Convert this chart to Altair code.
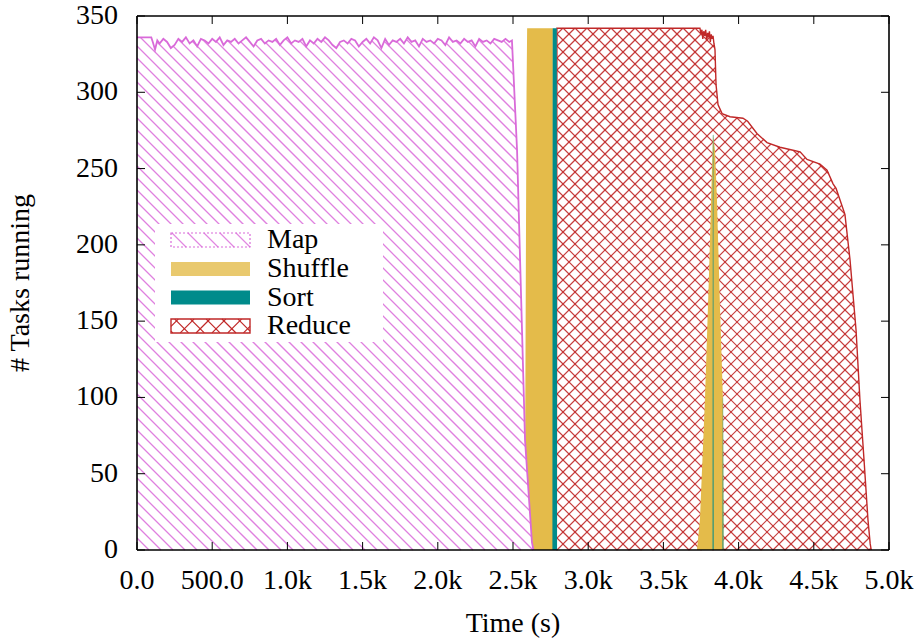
import numpy as np
import pandas as pd
import altair as alt

# ---------------- data ----------------
map_t = [0, 95, 105, 120, 135] + list(range(150, 2475, 25)) + [2475, 2493, 2527, 2580, 2626, 2636]
map_v = [336, 336, 333, 328, 334,
         332, 335, 333, 329, 331, 335, 333, 336, 332, 334,
         330, 335, 334, 332, 335, 333, 336, 331, 334, 333,
         335, 332, 334, 336, 333, 330, 334, 335, 332, 334,
         333, 335, 331, 334, 336, 332, 334, 333, 335, 330,
         334, 332, 335, 333, 336, 334, 331, 329, 333, 334,
         332, 335, 334, 330, 333, 335, 332, 336, 334, 329,
         335, 331, 334, 333, 335, 332, 336, 333, 334, 330,
         335, 333, 334, 332, 335, 334, 331, 336, 333, 334,
         332, 335, 333, 334, 330, 335, 333, 334, 332, 335,
         334, 333, 335,
         333, 334, 262, 72, 5, 0]

shuffle_t = [2578, 2590, 2594, 2765, 2768, 3723, 3743, 3776, 3803, 3823, 3830, 3843, 3856, 3876, 3896, 3900]
shuffle_v = [0, 300, 342, 342, 0, 0, 20, 98, 180, 250, 273, 262, 230, 160, 98, 0]

sort_t = [2762, 2764, 2791, 2793, 3827, 3829, 3832, 3834, 3893, 3895, 3897, 3899]
sort_v = [0, 342, 342, 0, 0, 272, 272, 0, 0, 100, 100, 0]

reduce_t = [2788, 2792, 3700, 3743, 3750, 3756, 3762, 3768, 3775, 3781, 3788, 3794, 3800, 3806,
            3812, 3818, 3824, 3830, 3836, 3843, 3850, 3863, 3890, 3943, 4029, 4060, 4122, 4189,
            4275, 4362, 4409, 4455, 4541, 4588, 4628, 4648, 4707, 4741, 4761, 4781, 4807, 4834,
            4860, 4875, 4882]
reduce_v = [0, 342, 342, 342, 338, 341, 335, 340, 337, 341, 334, 339, 336, 340,
            333, 338, 335, 337, 332, 328, 305, 292, 286, 284, 283, 281, 273, 267,
            264, 262, 261, 256, 253, 249, 240, 237, 220, 190, 167, 144, 98, 59,
            20, 4, 0]

series_names = ["Map", "Shuffle", "Sort", "Reduce"]
xticks = [0, 500, 1000, 1500, 2000, 2500, 3000, 3500, 4000, 4500, 5000]
xtick_labels = ["0.0", "500.0", "1.0k", "1.5k", "2.0k", "2.5k", "3.0k", "3.5k", "4.0k", "4.5k", "5.0k"]
yticks = [0, 50, 100, 150, 200, 250, 300, 350]
ytick_labels = ["0", "50", "100", "150", "200", "250", "300", "350"]
x_title = "Time (s)"
y_title = "# Tasks running"

# ---------------- style ----------------
W, H = 752, 534
XMAX, YMAX = 5000, 350
FONT = "Liberation Serif"
FS = 28
C_MAP = "#d96ad9"
C_SHUF = "#e4bb4a"
C_SORT = "#008b8b"
C_RED = "#c02828"

xscale = alt.Scale(domain=[0, XMAX], nice=False, zero=False)
yscale = alt.Scale(domain=[0, YMAX], nice=False)


def px2t(x):
    return x / W * XMAX


def py2v(y):
    return (H - y) / H * YMAX


def clip_hatch(gx, lo, hi, spacing, sgn, phase=0.0):
    segs = []
    x0, x1 = gx[0], gx[-1]
    umax, umin = hi.max(), lo.min()
    if sgn < 0:
        cmin, cmax = x0 + umin, x1 + umax
    else:
        cmin, cmax = umin - x1, umax - x0
    for k in range(int(np.floor(cmin / spacing)) - 1, int(np.ceil(cmax / spacing)) + 2):
        c = k * spacing + phase
        u = c + sgn * gx
        inside = (u >= lo) & (u <= hi) & (hi > lo)
        if not inside.any():
            continue
        d = np.diff(np.concatenate([[0], inside.astype(int), [0]]))
        starts = np.where(d == 1)[0]
        ends = np.where(d == -1)[0] - 1
        for a, b in zip(starts, ends):
            if b > a:
                segs.append((gx[a], u[a], gx[b], u[b]))
    return segs


def segs_to_df(segs):
    return pd.DataFrame([{"t": xa / W * XMAX, "v": ua / H * YMAX,
                          "t2": xb / W * XMAX, "v2": ub / H * YMAX} for (xa, ua, xb, ub) in segs])


def data_hatch(ts, vs, spacing, sgns, step=0.25):
    xs = np.asarray(ts, float) / XMAX * W
    us = np.asarray(vs, float) / YMAX * H
    gx = np.arange(np.floor(xs.min()), xs.max() + step, step)
    hi = np.interp(gx, xs, us, left=0, right=0)
    lo = np.zeros_like(hi)
    segs = []
    for s in sgns:
        segs += clip_hatch(gx, lo, hi, spacing, s)
    return segs_to_df(segs)


def rect_hatch(xa, xb, ya, yb, spacing, sgns, step=0.25):
    gx = np.arange(xa, xb + step, step)
    lo = np.full_like(gx, H - yb)
    hi = np.full_like(gx, H - ya)
    segs = []
    for s in sgns:
        segs += clip_hatch(gx, lo, hi, spacing, s)
    return segs_to_df(segs)


def series_df(ts, vs):
    return pd.DataFrame({"t": ts, "v": vs})


def X(f="t"):
    return alt.X(f"{f}:Q", scale=xscale, axis=None)


def Y(f="v"):
    return alt.Y(f"{f}:Q", scale=yscale, axis=None)


def rule_layer(df, color, width, opacity=1.0):
    return alt.Chart(df).mark_rule(color=color, strokeWidth=width, opacity=opacity).encode(
        x=X("t"), y=Y("v"), x2="t2:Q", y2="v2:Q")


map_df = series_df(map_t, map_v)
shuf_df = series_df(shuffle_t, shuffle_v)
sort_df = series_df(sort_t, sort_v)
red_df = series_df(reduce_t, reduce_v)

map_h = data_hatch(map_t, map_v, 12, [-1])
red_h = data_hatch(reduce_t, reduce_v, 12, [-1, 1])

layers = []
layers.append(rule_layer(red_h, C_RED, 1.15, 0.9))
layers.append(alt.Chart(red_df).mark_line(color=C_RED, strokeWidth=1.4).encode(
    x=X("t"), y=Y("v"), order="t:Q"))
layers.append(alt.Chart(shuf_df).mark_area(color=C_SHUF, opacity=1).encode(x=X("t"), y=Y("v")))
layers.append(alt.Chart(map_df).mark_area(color="white", opacity=1).encode(x=X("t"), y=Y("v")))
layers.append(rule_layer(map_h, C_MAP, 1.3, 0.85))
layers.append(alt.Chart(map_df).mark_line(color=C_MAP, strokeWidth=1.8).encode(
    x=X("t"), y=Y("v"), order="t:Q"))
layers.append(alt.Chart(sort_df).mark_area(color=C_SORT, opacity=1).encode(x=X("t"), y=Y("v")))

# ---------------- legend (laid out in pixels, converted to axis units) ----------------
def rect_df(x0, x1, y0, y1):
    return pd.DataFrame([{"t": px2t(x0), "t2": px2t(x1), "v": py2v(y0), "v2": py2v(y1)}])


def rect_layer(df, **kw):
    return alt.Chart(df).mark_rect(**kw).encode(x=X("t"), x2="t2:Q", y=Y("v"), y2="v2:Q")


layers.append(rect_layer(rect_df(18, 246, 208, 326), fill="white"))

sw_x0, sw_x1 = 34, 113
row_c = [224, 253, 281.5, 310]
sw_h = 14

r = row_c[0]
layers.append(rule_layer(rect_hatch(sw_x0, sw_x1, r - sw_h / 2, r + sw_h / 2, 16, [-1]), C_MAP, 1.2, 0.8))
layers.append(rect_layer(rect_df(sw_x0, sw_x1, r - sw_h / 2, r + sw_h / 2), fill="white", fillOpacity=0,
                         stroke=C_MAP, strokeWidth=1.2, strokeDash=[2, 2]))
r = row_c[1]
layers.append(rect_layer(rect_df(sw_x0, sw_x1, r - sw_h / 2, r + sw_h / 2), fill=C_SHUF, opacity=0.8))
r = row_c[2]
layers.append(rect_layer(rect_df(sw_x0, sw_x1, r - sw_h / 2, r + sw_h / 2), fill=C_SORT, opacity=1))
r = row_c[3]
layers.append(rule_layer(rect_hatch(sw_x0, sw_x1, r - sw_h / 2, r + sw_h / 2, 15.8, [-1, 1]), C_RED, 1.2))
layers.append(rect_layer(rect_df(sw_x0, sw_x1, r - sw_h / 2, r + sw_h / 2), fill="white", fillOpacity=0,
                         stroke=C_RED, strokeWidth=1.4))

lab = pd.DataFrame({"t": [px2t(130)] * 4, "v": [py2v(c + 8) for c in row_c], "s": series_names})
layers.append(alt.Chart(lab).mark_text(font=FONT, fontSize=FS, align="left", baseline="alphabetic",
                                       color="black").encode(x=X("t"), y=Y("v"), text="s:N"))

# ---------------- ticks, tick labels, titles, frame ----------------
xt = pd.DataFrame({"t": xticks, "lab": xtick_labels})
yt = pd.DataFrame({"v": yticks, "lab": ytick_labels})
TL = 8
layers.append(alt.Chart(xt).mark_rule(color="black", strokeWidth=1).encode(
    x=X("t"), y=alt.value(H), y2=alt.value(H - TL)))
layers.append(alt.Chart(xt).mark_rule(color="black", strokeWidth=1).encode(
    x=X("t"), y=alt.value(0), y2=alt.value(TL)))
layers.append(alt.Chart(yt).mark_rule(color="black", strokeWidth=1).encode(
    y=Y("v"), x=alt.value(0), x2=alt.value(TL)))
layers.append(alt.Chart(yt).mark_rule(color="black", strokeWidth=1).encode(
    y=Y("v"), x=alt.value(W - TL), x2=alt.value(W)))

layers.append(alt.Chart(xt).mark_text(font=FONT, fontSize=FS, align="center", baseline="alphabetic",
                                      color="black").encode(
    x=X("t"), y=alt.value(H + 39), text="lab:N"))
layers.append(alt.Chart(yt).mark_text(font=FONT, fontSize=FS, align="right", baseline="middle",
                                      color="black").encode(
    y=Y("v"), x=alt.value(-19), text="lab:N"))

one = pd.DataFrame({"a": [0]})
layers.append(alt.Chart(one).mark_text(font=FONT, fontSize=FS, align="center", baseline="alphabetic",
                                       color="black", text=x_title).encode(
    x=alt.value(W / 2), y=alt.value(H + 82)))
layers.append(alt.Chart(one).mark_text(font=FONT, fontSize=FS, align="center", baseline="alphabetic",
                                       color="black", text=y_title, angle=270).encode(
    x=alt.value(-108), y=alt.value(H / 2)))

FW = 1.6
layers.append(alt.Chart(one).mark_rule(color="black", strokeWidth=FW).encode(
    x=alt.value(0), x2=alt.value(W), y=alt.value(0)))
layers.append(alt.Chart(one).mark_rule(color="black", strokeWidth=FW).encode(
    x=alt.value(0), x2=alt.value(W), y=alt.value(H)))
layers.append(alt.Chart(one).mark_rule(color="black", strokeWidth=FW).encode(
    x=alt.value(0), y=alt.value(0), y2=alt.value(H)))
layers.append(alt.Chart(one).mark_rule(color="black", strokeWidth=FW).encode(
    x=alt.value(W), y=alt.value(0), y2=alt.value(H)))

chart = alt.layer(*layers).properties(
    width=W, height=H,
    autosize=alt.AutoSizeParams(type="none"),
    padding={"left": 137, "top": 16, "right": 33, "bottom": 91},
    background="white",
).configure_view(stroke=None)

chart.save("out.html", embed_options={"renderer": "svg", "actions": False})
